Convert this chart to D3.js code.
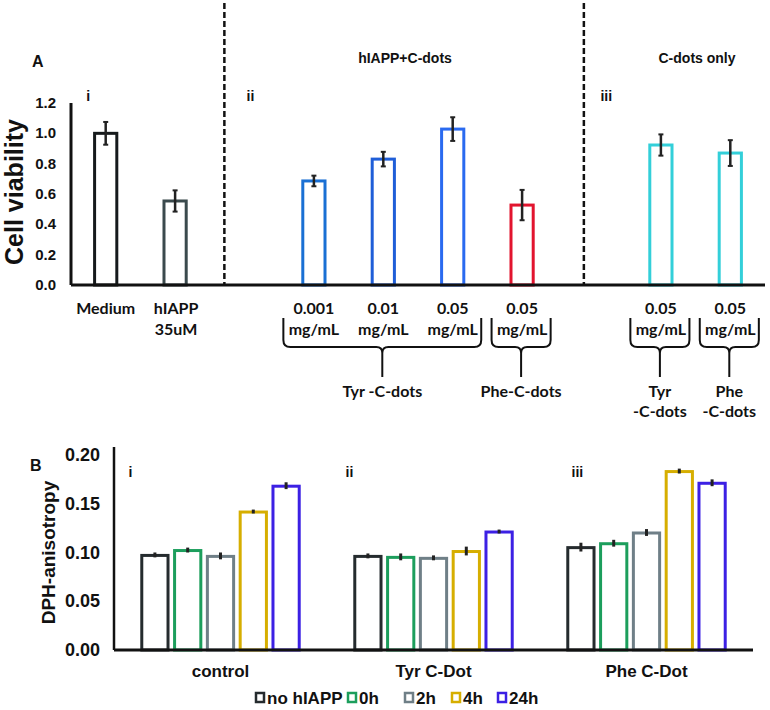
<!DOCTYPE html>
<html lang="en">
<head>
<meta charset="UTF-8">
<title>Cell viability and DPH-anisotropy</title>
<script src="https://d3js.org/d3.v7.min.js"></script>
<style>
 body { margin: 0; background: #fff; }
 svg { display: block; }
 text { font-family: "Liberation Sans", Arial, sans-serif; font-weight: bold; fill: #111; }
 .cal { font-family: Lato, "Open Sans", sans-serif; font-weight: bold; }
</style>
</head>
<body>
<div id="chart"></div>
<script>
// Panel A: cell viability
const aCats = ["Medium", "hIAPP", "gap1", "Tyr0.001", "Tyr0.01", "Tyr0.05", "Phe0.05", "gap2", "cTyr0.05", "cPhe0.05"];
const aBars = ["Medium", "hIAPP", "Tyr0.001", "Tyr0.01", "Tyr0.05", "Phe0.05", "cTyr0.05", "cPhe0.05"];
const aValues = [1.0, 0.554, 0.686, 0.83, 1.028, 0.527, 0.923, 0.87];
const aErrors = [0.075, 0.07, 0.035, 0.048, 0.078, 0.1, 0.07, 0.085];
const aColors = ["#161a1c", "#3b4a4d", "#1a70d4", "#1f5ed8", "#2a6af0", "#e2142e", "#33cfd9", "#33cfd9"];
const aTopLabels = ["Medium", "hIAPP", "0.001", "0.01", "0.05", "0.05", "0.05", "0.05"];
const aSubLabels = ["", "35uM", "mg/mL", "mg/mL", "mg/mL", "mg/mL", "mg/mL", "mg/mL"];
const aYTicks = [0, 0.2, 0.4, 0.6, 0.8, 1.0, 1.2];
const braces = [
  { from: "Tyr0.001", to: "Tyr0.05", label: ["Tyr -C-dots"] },
  { from: "Phe0.05", to: "Phe0.05", label: ["Phe-C-dots"] },
  { from: "cTyr0.05", to: "cTyr0.05", label: ["Tyr", "-C-dots"] },
  { from: "cPhe0.05", to: "cPhe0.05", label: ["Phe", "-C-dots"] }
];
const separators = [2.21, 7.39];   // in category units
const sections = [
  { label: "i", at: 0.19 }, { label: "ii", at: 2.5 }, { label: "iii", at: 7.6 }
];

// Panel B: DPH-anisotropy
const bGroups = ["control", "Tyr C-Dot", "Phe C-Dot"];
const bSeries = ["no hIAPP", "0h", "2h", "4h", "24h"];
const bColors = ["#252b2e", "#1c9e5c", "#6f7f87", "#d6ae00", "#3c20e4"];
const bValues = [
  [0.097, 0.102, 0.096, 0.1415, 0.168],
  [0.096, 0.095, 0.094, 0.101, 0.121],
  [0.105, 0.109, 0.120, 0.183, 0.171]
];
const bErrors = [
  [0.002, 0.002, 0.003, 0.0015, 0.003],
  [0.002, 0.003, 0.002, 0.004, 0.0015],
  [0.004, 0.003, 0.003, 0.002, 0.003]
];
const bYTicks = [0, 0.05, 0.10, 0.15, 0.20];
const bSections = ["i", "ii", "iii"];

const W = 770, H = 710;
const svg = d3.select("#chart").append("svg").attr("width", W).attr("height", H);

// ---------- Panel A ----------
const xA = d3.scaleBand().domain(aCats).range([71, 765]).paddingInner(0.68).paddingOuter(0.34);
const xAu = d3.scaleLinear().domain([0, aCats.length]).range([71, 765]);
const yA = d3.scaleLinear().domain([0, 1.2]).range([285, 103]);
const cx = c => xA(c) + xA.bandwidth() / 2;

const gA = svg.append("g");

gA.append("text").attr("x", 32).attr("y", 67).attr("font-size", 16).text("A");
gA.append("text").attr("x", 405).attr("y", 63).attr("font-size", 14).attr("text-anchor", "middle").text("hIAPP+C-dots");
gA.append("text").attr("x", 697).attr("y", 63).attr("font-size", 14).attr("text-anchor", "middle").text("C-dots only");

sections.forEach(s => {
  gA.append("text").attr("x", xAu(s.at) + 2).attr("y", 101).attr("font-size", 14).text(s.label);
});

gA.append("text")
  .attr("transform", `translate(23,${(yA(0) + yA(1.2)) / 2 - 2}) rotate(-90)`)
  .attr("text-anchor", "middle").attr("font-size", 25).text("Cell viability");

gA.append("g").selectAll("text").data(aYTicks).join("text")
  .attr("x", 56).attr("y", d => yA(d) + 5)
  .attr("text-anchor", "end").attr("font-size", 15)
  .text(d => d.toFixed(1));

gA.append("line").attr("x1", 71).attr("x2", 71).attr("y1", yA(1.2)).attr("y2", yA(0))
  .attr("stroke", "#111").attr("stroke-width", 3);

// separators
gA.selectAll(".sep").data(separators).join("line")
  .attr("class", "sep")
  .attr("x1", d => xAu(d)).attr("x2", d => xAu(d))
  .attr("y1", 3).attr("y2", yA(0))
  .attr("stroke", "#111").attr("stroke-width", 2.5).attr("stroke-dasharray", "6,3");

// bars
gA.selectAll(".barA").data(aBars).join("rect")
  .attr("class", "barA")
  .attr("x", d => xA(d)).attr("width", xA.bandwidth())
  .attr("y", (d, i) => yA(aValues[i])).attr("height", (d, i) => yA(0) - yA(aValues[i]))
  .attr("fill", "#fff").attr("stroke", (d, i) => aColors[i]).attr("stroke-width", 3);

// error bars
aBars.forEach((c, i) => {
  const x = cx(c), y1 = yA(aValues[i] - aErrors[i]), y2 = yA(aValues[i] + aErrors[i]);
  gA.append("line").attr("x1", x).attr("x2", x).attr("y1", y1).attr("y2", y2).attr("stroke", "#222").attr("stroke-width", 2.5);
  [y1, y2].forEach(y => gA.append("line").attr("x1", x - 2.5).attr("x2", x + 2.5).attr("y1", y).attr("y2", y).attr("stroke", "#222").attr("stroke-width", 2));
});

gA.append("line").attr("x1", 71).attr("x2", 765).attr("y1", yA(0)).attr("y2", yA(0))
  .attr("stroke", "#111").attr("stroke-width", 3);

// category labels
aBars.forEach((c, i) => {
  gA.append("text").attr("class", "cal").attr("x", cx(c) + (i === 1 ? 1 : 0)).attr("y", 314)
    .attr("text-anchor", "middle").attr("font-size", 16).text(aTopLabels[i]);
  if (aSubLabels[i]) {
    gA.append("text").attr("class", "cal").attr("x", cx(c) + (i === 1 ? 1 : 0)).attr("y", 335)
      .attr("text-anchor", "middle").attr("font-size", 16).text(aSubLabels[i]);
  }
});

// braces
const armOff = xA.step() * 0.44;
braces.forEach(b => {
  const xl = cx(b.from) - armOff, xr = cx(b.to) + armOff - 2, xc = (xl + xr) / 2;
  const yt = 318, yh = 347, yp = 353;
  gA.append("path")
    .attr("d", `M${xl},${yt} L${xl},${yh - 7} Q${xl},${yh} ${xl + 7},${yh} L${xc - 6},${yh} Q${xc},${yh} ${xc},${yp}` +
      ` Q${xc},${yh} ${xc + 6},${yh} L${xr - 7},${yh} Q${xr},${yh} ${xr},${yh - 7} L${xr},${yt}` +
      ` M${xc},${yp} L${xc},377`)
    .attr("fill", "none").attr("stroke", "#111").attr("stroke-width", 2);
  b.label.forEach((t, k) => {
    gA.append("text").attr("class", "cal").attr("x", xc).attr("y", 397 + k * 20)
      .attr("text-anchor", "middle").attr("font-size", 16).text(t);
  });
});

// ---------- Panel B ----------
const x0 = d3.scaleBand().domain(bGroups).range([114, 753]);
const x1 = d3.scaleBand().domain(bSeries).range([-82, 82]).paddingInner(0.2).paddingOuter(0.1);
const yB = d3.scaleLinear().domain([0, 0.2]).range([650, 455]);
const gB = svg.append("g");

gB.append("text").attr("x", 30).attr("y", 471).attr("font-size", 16).text("B");

gB.append("text")
  .attr("transform", `translate(55,${(yB(0) + yB(0.2)) / 2}) rotate(-90)`)
  .attr("text-anchor", "middle").attr("font-size", 19).text("DPH-anisotropy");

gB.append("g").selectAll("text").data(bYTicks).join("text")
  .attr("x", 100).attr("y", d => yB(d) + 6)
  .attr("text-anchor", "end").attr("font-size", 18)
  .text(d => d.toFixed(2));

gB.append("line").attr("x1", 114).attr("x2", 114).attr("y1", yB(0.2) - 8).attr("y2", yB(0))
  .attr("stroke", "#111").attr("stroke-width", 2.5);

bGroups.forEach((g, gi) => {
  const gc = x0(g) + x0.bandwidth() / 2;
  gB.append("text").attr("x", gc - 92 + (gi === 2 ? 17 : 0) + (gi === 1 ? 4 : 0)).attr("y", 477).attr("font-size", 14).text(bSections[gi]);
  const grp = gB.append("g").attr("transform", `translate(${gc},0)`);
  grp.selectAll("rect").data(bValues[gi]).join("rect")
    .attr("x", (d, i) => x1(bSeries[i])).attr("width", x1.bandwidth())
    .attr("y", d => yB(d)).attr("height", d => yB(0) - yB(d))
    .attr("fill", "#fff").attr("stroke", (d, i) => bColors[i]).attr("stroke-width", 3);
  bValues[gi].forEach((v, i) => {
    const x = x1(bSeries[i]) + x1.bandwidth() / 2;
    const e = bErrors[gi][i];
    grp.append("line").attr("x1", x).attr("x2", x).attr("y1", yB(v - e)).attr("y2", yB(v + e) - 1)
      .attr("stroke", "#222").attr("stroke-width", 3);
  });
  gB.append("text").attr("x", gc).attr("y", 677).attr("text-anchor", "middle").attr("font-size", 17).text(g);
});

gB.append("line").attr("x1", 114).attr("x2", 753).attr("y1", yB(0)).attr("y2", yB(0))
  .attr("stroke", "#111").attr("stroke-width", 3);

// legend
const legX = [256, 348, 405, 452, 498];
bSeries.forEach((s, i) => {
  gB.append("rect").attr("x", legX[i]).attr("y", 693).attr("width", 8).attr("height", 9)
    .attr("fill", "#fff").attr("stroke", bColors[i]).attr("stroke-width", 2.5);
  gB.append("text").attr("x", legX[i] + 11).attr("y", 704).attr("font-size", 17).text(s);
});
</script>
</body>
</html>
